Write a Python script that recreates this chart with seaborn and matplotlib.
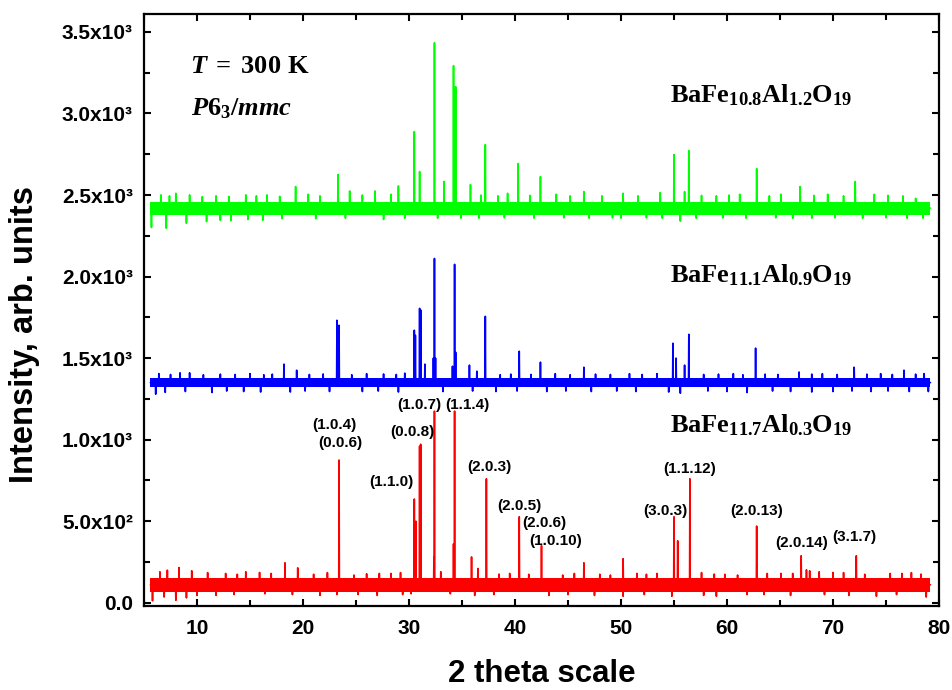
import numpy as np
import pandas as pd
import matplotlib
matplotlib.use('Agg')
import matplotlib.pyplot as plt
import seaborn as sns

# --- Дані ---

X_MIN, X_MAX = 5.6, 79.2

# BaFe11.7Al0.3O19 (червоний)
red_peak_x = [8.3, 18.3, 19.5, 23.4, 30.5, 30.65, 31.0, 31.1, 32.35, 32.4, 34.2, 34.3, 35.9,
              37.3, 40.4, 42.5, 46.5, 50.2, 55.0, 55.35, 56.5, 62.8, 67.0, 67.5, 72.2]
red_peak_y = [216, 245, 214, 875, 636, 500, 960, 972, 282, 1175, 361, 1175, 281,
              760, 527, 350, 245, 270, 527, 380, 760, 470, 288, 202, 288]
red_up_x = [6.5, 7.2, 9.5, 11.0, 12.7, 13.8, 14.6, 15.9, 17.0, 21.0, 22.3, 24.8, 26.0, 27.2,
            28.3, 29.2, 33.0, 36.5, 38.5, 39.5, 41.3, 44.5, 45.6, 48.0, 49.0, 51.5, 52.4, 53.4,
            57.6, 58.8, 59.8, 61.0, 63.8, 65.1, 66.2, 67.8, 68.7, 70.0, 71.0, 73.0, 75.4, 76.5,
            77.4, 78.3]
red_up_y = [190, 200, 196, 185, 180, 175, 190, 186, 180, 175, 185, 170, 178, 180,
            180, 185, 190, 210, 176, 180, 175, 170, 180, 175, 170, 180, 175, 180,
            185, 176, 175, 170, 180, 180, 180, 196, 190, 186, 185, 175, 180, 180,
            185, 176]
red_dn_x = [5.8, 6.9, 8.0, 9.0, 10.0, 11.8, 13.5, 16.4, 19.0, 21.6, 23.2, 25.2, 27.0, 29.4,
            30.2, 33.9, 36.2, 38.0, 43.2, 45.0, 47.5, 50.2, 52.2, 54.8, 57.8, 59.0, 61.9, 63.5,
            66.0, 69.2, 71.5, 74.1, 76.0, 78.8]
red_dn_y = [12, 35, 15, 30, 45, 45, 50, 55, 50, 45, 50, 50, 45, 50,
            55, 55, 45, 50, 45, 50, 45, 40, 50, 40, 45, 40, 50, 50,
            45, 50, 45, 40, 50, 35]
red_base, red_lo, red_hi = 110, 68, 152

# BaFe11.1Al0.9O19 (синій)
blue_peak_x = [18.2, 19.4, 23.2, 23.4, 30.5, 30.6, 31.0, 31.1, 31.5, 32.3, 32.4, 32.5, 34.1,
               34.3, 34.4, 35.7, 37.2, 40.4, 42.4, 46.5, 54.9, 55.2, 56.0, 56.4, 62.7, 72.0, 76.7]
blue_peak_y = [1463, 1426, 1732, 1701, 1671, 1640, 1805, 1795, 1463, 1500, 2111, 1500, 1450,
               2075, 1536, 1457, 1756, 1542, 1475, 1444, 1591, 1500, 1457, 1646, 1561, 1444, 1426]
blue_up_x = [6.4, 7.5, 8.4, 9.3, 10.6, 12.2, 13.6, 15.0, 16.3, 17.1, 20.6, 21.9, 24.6, 26.0,
             27.6, 28.8, 29.6, 36.4, 38.6, 39.6, 41.5, 43.8, 45.2, 47.6, 49.0, 50.8, 52.0, 53.4,
             57.8, 59.2, 60.6, 61.5, 63.6, 64.8, 66.8, 68.0, 69.0, 70.4, 73.2, 74.5, 75.6, 77.8, 78.6]
blue_up_y = [1405, 1400, 1410, 1410, 1398, 1402, 1400, 1405, 1398, 1402, 1400, 1403, 1398, 1405,
             1403, 1400, 1408, 1420, 1398, 1402, 1400, 1405, 1398, 1402, 1400, 1405, 1400, 1405,
             1400, 1402, 1405, 1398, 1402, 1400, 1415, 1402, 1405, 1400, 1402, 1405, 1400, 1402, 1405]
blue_dn_x = [6.1, 7.0, 8.9, 11.4, 12.8, 14.4, 16.0, 18.8, 20.2, 22.5, 25.6, 27.1, 29.0, 33.2,
             36.0, 38.2, 40.2, 43.0, 44.8, 47.2, 49.6, 51.4, 54.5, 55.6, 58.2, 60.0, 61.9, 64.3,
             66.0, 68.0, 70.0, 71.8, 73.6, 75.2, 77.2, 79.0]
blue_dn_y = [1279, 1290, 1295, 1289, 1298, 1295, 1292, 1292, 1298, 1295, 1295, 1298, 1292, 1295,
             1298, 1295, 1298, 1295, 1298, 1295, 1298, 1295, 1292, 1285, 1298, 1295, 1289, 1298,
             1295, 1292, 1295, 1298, 1295, 1298, 1295, 1295]
blue_base, blue_lo, blue_hi = 1350, 1320, 1380

# BaFe10.8Al1.2O19 (зелений)
green_peak_x = [19.3, 23.3, 30.5, 31.0, 32.4, 33.3, 34.2, 34.4, 35.8, 37.2, 40.3, 42.4,
                55.0, 56.0, 56.4, 62.8, 66.9, 72.1]
green_peak_y = [2552, 2625, 2889, 2644, 3433, 2583, 3293, 3164, 2564, 2809, 2693, 2613,
                2748, 2521, 2772, 2662, 2552, 2583]
green_up_x = [6.6, 7.4, 8.0, 9.3, 10.5, 11.8, 13.0, 14.6, 15.6, 16.6, 17.8, 20.5, 21.6, 24.4,
              25.6, 26.8, 28.3, 29.0, 36.8, 38.4, 39.3, 41.4, 43.9, 45.2, 46.5, 48.2, 50.2, 51.6,
              53.7, 57.6, 59.0, 60.2, 61.2, 64.0, 65.1, 68.2, 69.5, 71.0, 73.9, 75.2, 76.6, 77.8]
green_up_y = [2501, 2495, 2511, 2501, 2490, 2495, 2492, 2501, 2495, 2501, 2492, 2505, 2495, 2525,
              2500, 2525, 2505, 2556, 2500, 2495, 2511, 2498, 2505, 2495, 2521, 2495, 2511, 2495,
              2515, 2498, 2495, 2500, 2505, 2495, 2505, 2498, 2505, 2495, 2505, 2498, 2495, 2480]
green_dn_x = [5.7, 7.1, 9.0, 10.9, 12.2, 13.2, 14.8, 16.2, 18.0, 21.2, 24.0, 27.6, 29.6, 32.7,
              34.9, 36.6, 39.0, 41.8, 44.6, 47.0, 49.2, 50.0, 52.4, 53.9, 55.6, 57.1, 59.6, 61.8,
              64.6, 66.2, 68.0, 70.2, 72.8, 75.0, 77.0, 78.5]
green_dn_y = [2301, 2297, 2327, 2337, 2345, 2342, 2350, 2345, 2355, 2355, 2358, 2350, 2358, 2358,
              2358, 2358, 2360, 2358, 2360, 2358, 2360, 2358, 2360, 2358, 2340, 2358, 2360, 2358,
              2360, 2358, 2358, 2360, 2358, 2360, 2358, 2358]
green_base, green_lo, green_hi = 2420, 2380, 2460

# Індекси Міллера (підписи піків)
hkl_labels = ['(1.0.4)', '(0.0.6)', '(0.0.8)', '(1.1.0)', '(1.0.7)', '(1.1.4)', '(2.0.3)',
              '(2.0.5)', '(2.0.6)', '(1.0.10)', '(3.0.3)', '(1.1.12)', '(2.0.13)', '(2.0.14)', '(3.1.7)']
hkl_x = [23.0, 23.5, 30.3, 28.3, 31.0, 35.5, 37.6, 40.4, 42.8, 43.8, 54.2, 56.5, 62.8, 67.0, 72.0]
hkl_y = [1091, 981, 1048, 742, 1214, 1214, 834, 595, 490, 380, 564, 821, 564, 368, 405]

y_ticks = [0, 500, 1000, 1500, 2000, 2500, 3000, 3500]
y_ticklabels = ['0.0', '5.0x10²', '1.0x10³', '1.5x10³', '2.0x10³', '2.5x10³', '3.0x10³', '3.5x10³']


def make_path(name, base, xs, ys):
    # кожен пік - вузький сплеск від базової лінії
    pts = sorted(zip(xs, ys))
    px, py = [X_MIN], [base]
    for x, y in pts:
        px += [x - 0.03, x, x + 0.03]
        py += [base, y, base]
    px.append(X_MAX)
    py.append(base)
    return pd.DataFrame({'two_theta': px, 'intensity': py, 'sample': name})


traces = [
    ('red', red_base, red_lo, red_hi, red_peak_x + red_up_x + red_dn_x, red_peak_y + red_up_y + red_dn_y),
    ('blue', blue_base, blue_lo, blue_hi, blue_peak_x + blue_up_x + blue_dn_x, blue_peak_y + blue_up_y + blue_dn_y),
    ('green', green_base, green_lo, green_hi, green_peak_x + green_up_x + green_dn_x,
     green_peak_y + green_up_y + green_dn_y),
]
colors = {'red': '#ff0000', 'blue': '#0000ff', 'green': '#00ff00'}

df = pd.concat([make_path(n, b, xs, ys) for n, b, lo, hi, xs, ys in traces], ignore_index=True)

# --- Побудова ---

sns.set_style('ticks')
plt.rcParams['font.family'] = ['Liberation Sans', 'DejaVu Sans']
plt.rcParams['font.weight'] = 'bold'
plt.rcParams['mathtext.fontset'] = 'custom'
plt.rcParams['mathtext.rm'] = 'Liberation Serif:bold'
plt.rcParams['mathtext.bf'] = 'Liberation Serif:bold'
plt.rcParams['mathtext.it'] = 'Liberation Serif:italic:bold'
for k in ['text.color', 'axes.labelcolor', 'xtick.color', 'ytick.color', 'axes.edgecolor']:
    plt.rcParams[k] = 'black'

fig = plt.figure(figsize=(9.52, 6.9), dpi=100)
ax = fig.add_axes([0.1513, 0.1217, 0.8350, 0.8580])

for n, b, lo, hi, xs, ys in traces:
    ax.fill_between([X_MIN, X_MAX], [lo, lo], [hi, hi], color=colors[n], lw=0)

sns.lineplot(data=df, x='two_theta', y='intensity', hue='sample', units='sample',
             estimator=None, sort=False, palette=colors, linewidth=1.2, legend=False, ax=ax)

for lab, x, y in zip(hkl_labels, hkl_x, hkl_y):
    ax.text(x, y, lab, ha='center', va='center', fontsize=11, fontweight='bold')

ax.text(54.6, 3071, r'$\mathrm{BaFe}_{10.8}\mathrm{Al}_{1.2}\mathrm{O}_{19}$', fontsize=19, va='baseline')
ax.text(54.6, 1962, r'$\mathrm{BaFe}_{11.1}\mathrm{Al}_{0.9}\mathrm{O}_{19}$', fontsize=19, va='baseline')
ax.text(54.6, 1042, r'$\mathrm{BaFe}_{11.7}\mathrm{Al}_{0.3}\mathrm{O}_{19}$', fontsize=19, va='baseline')
ax.text(9.35, 3251, r'$T\;=\;300\ \mathrm{K}$', fontsize=19, va='baseline')
ax.text(9.4, 2991, r'$\mathit{P6_3/mmc}$', fontsize=19, va='baseline')

ax.set_xlim(5, 80)
ax.set_ylim(-20, 3610)
ax.set_xticks(range(10, 81, 10))
ax.set_xticks(range(5, 81, 5), minor=True)
ax.set_yticks(y_ticks)
ax.set_yticklabels(y_ticklabels)
ax.set_yticks(range(0, 3601, 250), minor=True)
ax.tick_params(which='both', direction='in', top=True, right=True, width=1.5, labelsize=15)
ax.tick_params(which='major', length=5)
ax.tick_params(axis='x', which='major', pad=9)
ax.tick_params(axis='y', which='major', pad=8)
ax.tick_params(which='minor', length=4)
for s in ax.spines.values():
    s.set_linewidth(1.6)

ax.set_xlabel('2 theta scale', fontsize=22.5, fontweight='bold')
ax.set_ylabel('Intensity, arb. units', fontsize=23.5, fontweight='bold')
ax.xaxis.set_label_coords(0.5, -0.089)
ax.yaxis.set_label_coords(-0.131, 0.458)

fig.savefig('out.png', dpi=100)
